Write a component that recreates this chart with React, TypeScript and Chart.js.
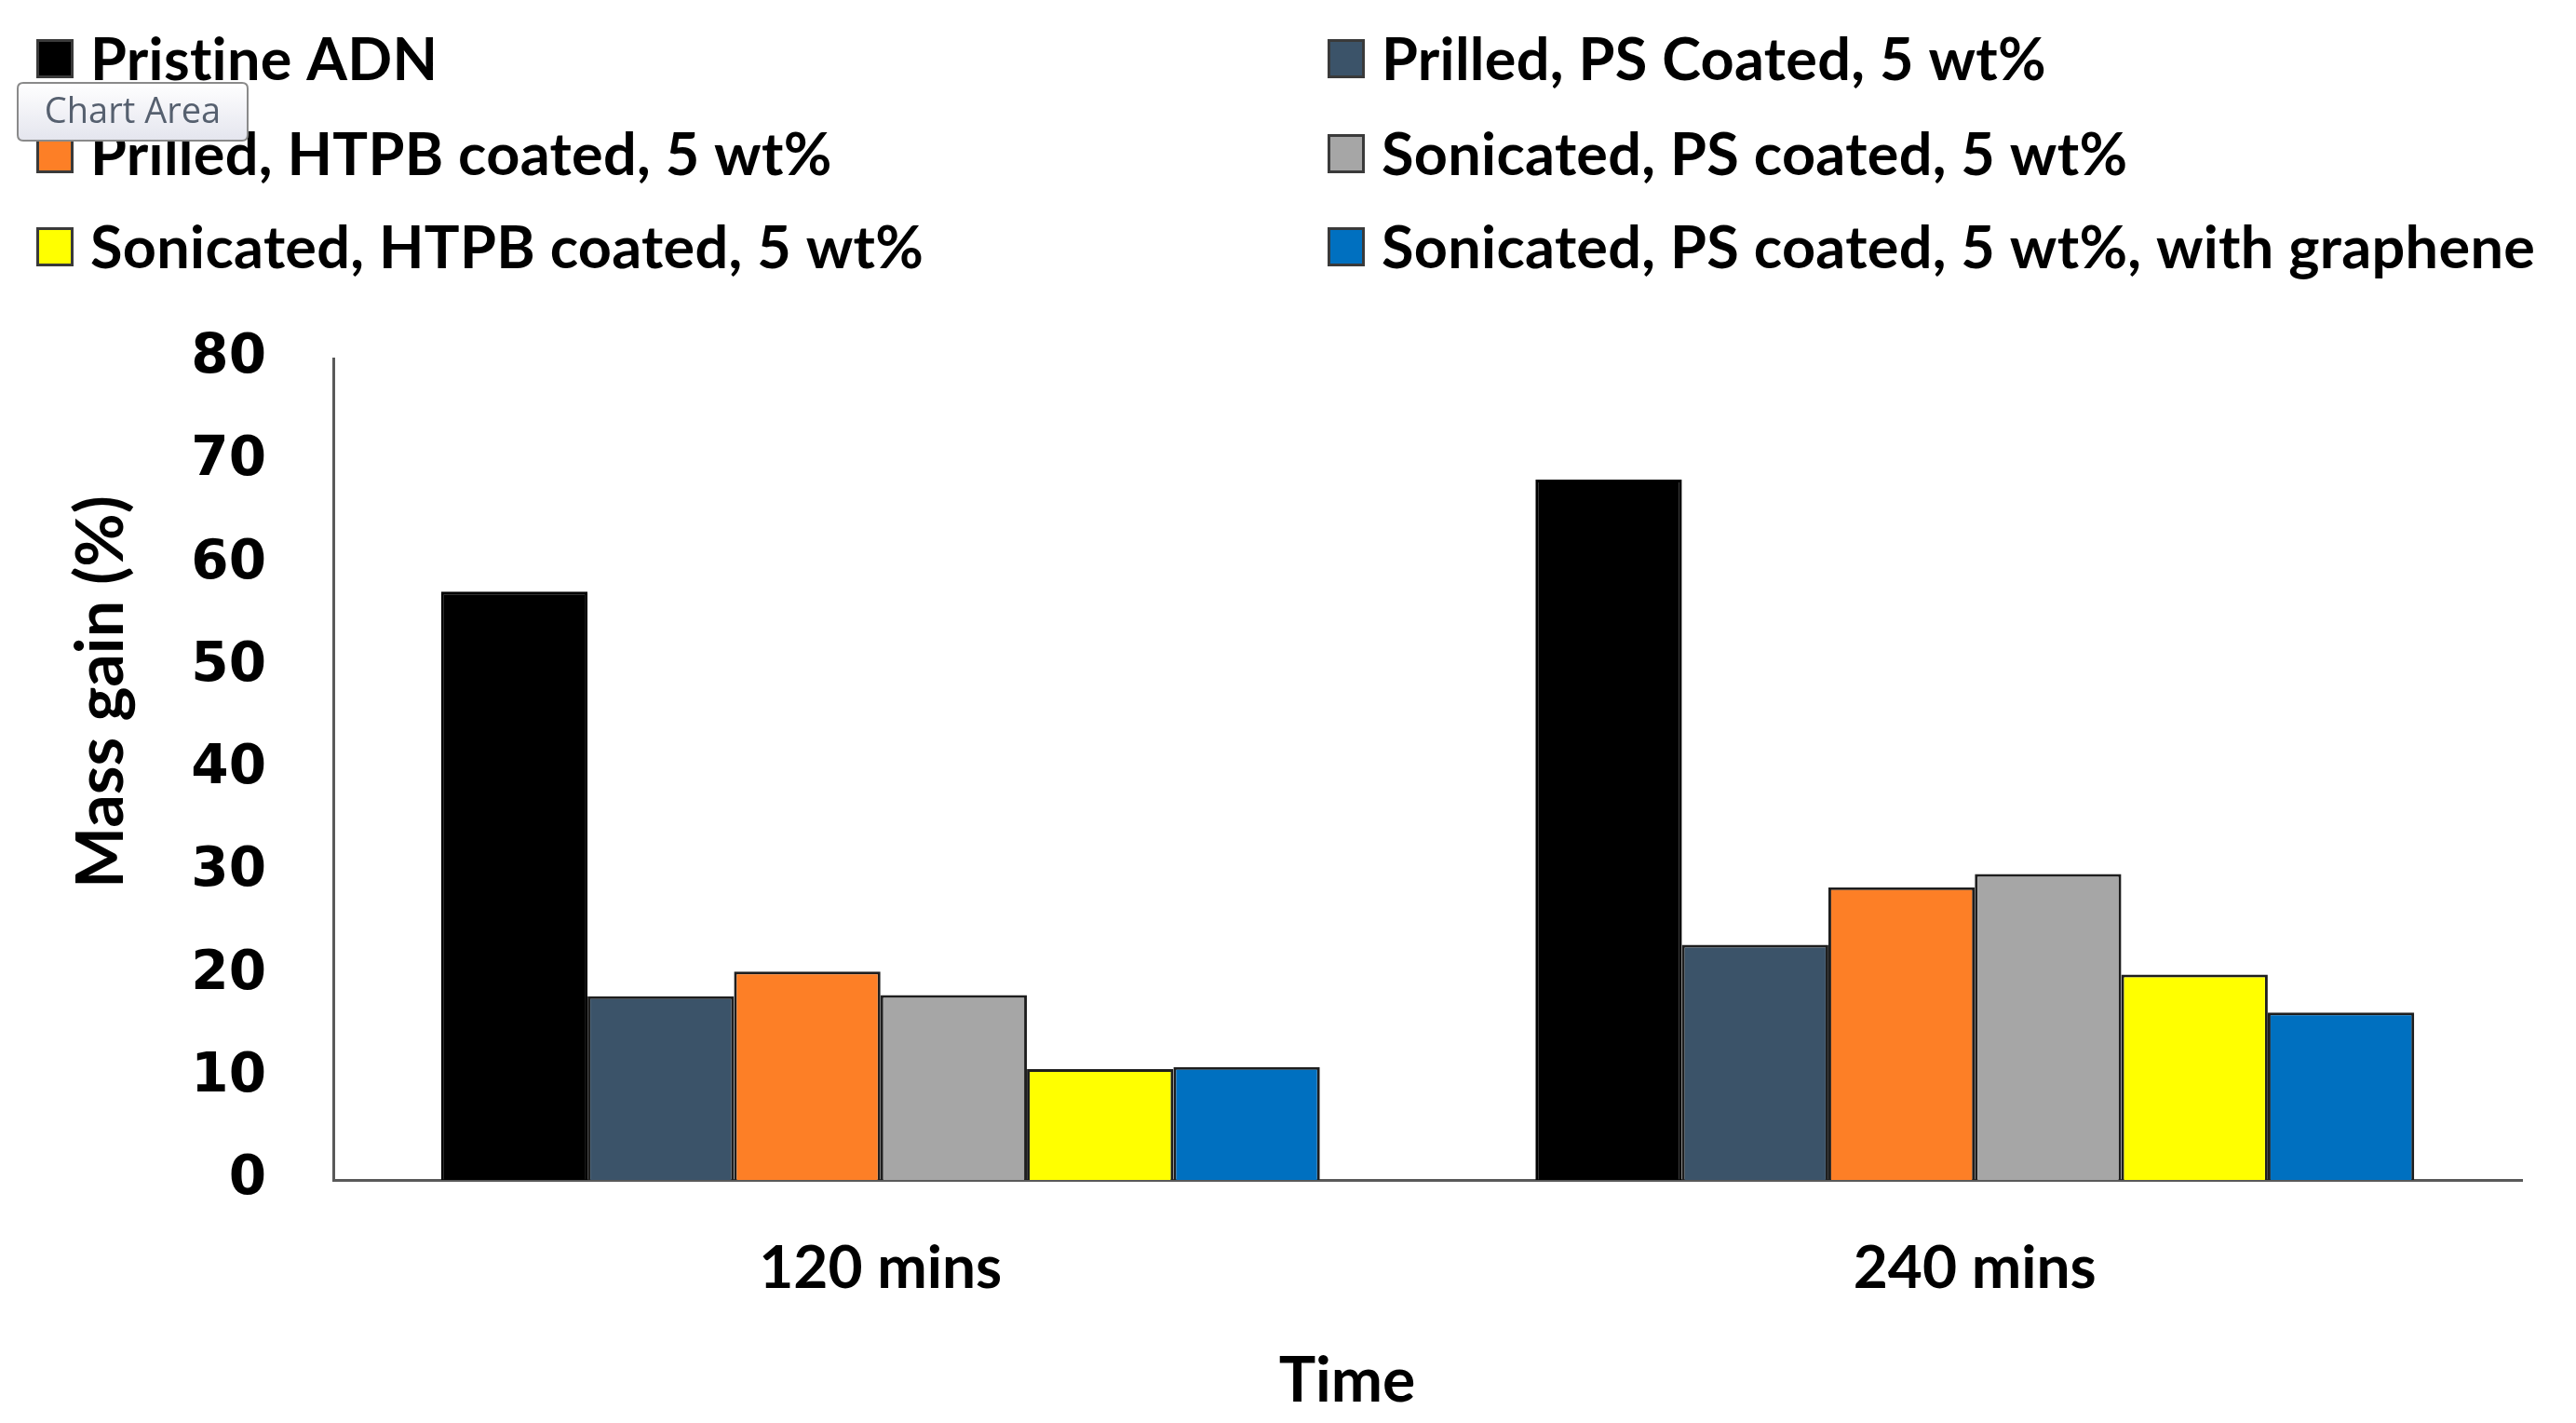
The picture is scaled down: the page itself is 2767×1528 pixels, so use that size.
import React, { useEffect, useRef } from "react";
import { Chart, registerables } from "chart.js";

Chart.register(...registerables);

// ---- Data ----
const categories = ["120 mins", "240 mins"];
const seriesLabels = [
  "Pristine ADN",
  "Prilled, PS Coated, 5 wt%",
  "Prilled, HTPB coated, 5 wt%",
  "Sonicated, PS coated, 5 wt%",
  "Sonicated, HTPB coated, 5 wt%",
  "Sonicated, PS coated, 5 wt%, with graphene",
];
const pristineADN = [57.3, 68.2];
const prilledPS = [17.9, 22.9];
const prilledHTPB = [20.3, 28.5];
const sonicatedPS = [18.0, 29.8];
const sonicatedHTPB = [10.8, 20.0];
const sonicatedPSGraphene = [11.0, 16.3];
const seriesColors = ["#000000", "#3B5369", "#FD7F26", "#A6A6A6", "#FFFF00", "#0070C0"];
const yMin = 0;
const yMax = 80;
const yStep = 10;
const yTitle = "Mass gain (%)";
const xTitle = "Time";
const hoverTipText = "Chart Area";

const W = 2767;
const H = 1528;

const CAL = "Lato, 'Open Sans', sans-serif";

const overlayPlugin = {
  id: "overlayPlugin",
  afterDraw(chart: any) {
    const ctx = chart.ctx as CanvasRenderingContext2D;
    ctx.save();
    // Legend in a 2-column grid
    const colX = [39, 1426];
    const rowY = [63, 165, 265];
    ctx.font = `bold 63px ${CAL}`;
    (ctx as any).letterSpacing = "0.3px";
    ctx.textBaseline = "middle";
    ctx.textAlign = "left";
    chart.data.datasets.forEach((d: any, i: number) => {
      const col = i % 2;
      const row = Math.floor(i / 2);
      const x = colX[col];
      const y = rowY[row];
      ctx.fillStyle = d.backgroundColor;
      ctx.fillRect(x, y - 21, 40, 42);
      ctx.strokeStyle = "#3a3a3a";
      ctx.lineWidth = 3;
      ctx.strokeRect(x + 1.5, y - 19.5, 37, 39);
      ctx.fillStyle = "#000000";
      ctx.fillText(d.label, x + 58, y + 3);
    });
    (ctx as any).letterSpacing = "0px";

    // Axis titles
    ctx.fillStyle = "#000000";
    ctx.font = `bold 70px ${CAL}`;
    ctx.textAlign = "center";
    ctx.textBaseline = "middle";
    ctx.save();
    ctx.translate(109, 743);
    ctx.rotate(-Math.PI / 2);
    ctx.fillText(yTitle, 0, 0);
    ctx.restore();
    ctx.font = `bold 66px ${CAL}`;
    ctx.fillText(xTitle, 1447, 1484);

    // Hover tip box
    const bx = 19, by = 89, bw = 247, bh = 62;
    const g = ctx.createLinearGradient(0, by, 0, by + bh);
    g.addColorStop(0, "#ffffff");
    g.addColorStop(1, "#e4e5ee");
    ctx.fillStyle = g;
    ctx.beginPath();
    const r = 6;
    ctx.moveTo(bx + r, by);
    ctx.lineTo(bx + bw - r, by);
    ctx.quadraticCurveTo(bx + bw, by, bx + bw, by + r);
    ctx.lineTo(bx + bw, by + bh - r);
    ctx.quadraticCurveTo(bx + bw, by + bh, bx + bw - r, by + bh);
    ctx.lineTo(bx + r, by + bh);
    ctx.quadraticCurveTo(bx, by + bh, bx, by + bh - r);
    ctx.lineTo(bx, by + r);
    ctx.quadraticCurveTo(bx, by, bx + r, by);
    ctx.closePath();
    ctx.fill();
    ctx.strokeStyle = "#8a8a8a";
    ctx.lineWidth = 2;
    ctx.stroke();
    ctx.fillStyle = "#56606f";
    ctx.font = `38px 'Open Sans', sans-serif`;
    ctx.textAlign = "center";
    ctx.fillText(hoverTipText, bx + bw / 2, by + bh / 2 + 1);
    ctx.restore();
  },
};

export default function App() {
  const ref = useRef<HTMLCanvasElement | null>(null);

  useEffect(() => {
    document.body.style.margin = "0";
    const seriesValues = [pristineADN, prilledPS, prilledHTPB, sonicatedPS, sonicatedHTPB, sonicatedPSGraphene];
    const chart = new Chart(ref.current as HTMLCanvasElement, {
      type: "bar",
      data: {
        labels: categories,
        datasets: seriesLabels.map((label, i) => ({
          label,
          data: seriesValues[i],
          backgroundColor: seriesColors[i],
          borderColor: i === 0 ? "#000000" : "#1e1e1e",
          borderWidth: 3,
          categoryPercentage: 0.803,
          barPercentage: 1.0,
        })),
      },
      options: {
        animation: false,
        responsive: true,
        maintainAspectRatio: false,
        devicePixelRatio: 1,
        layout: { padding: { top: 385, right: 58, left: 0, bottom: 0 } },
        plugins: {
          legend: { display: false },
          tooltip: { enabled: false },
          title: { display: false },
        },
        scales: {
          x: {
            grid: { display: false },
            border: { display: true, color: "#595959", width: 3 },
            ticks: {
              color: "#000000",
              padding: 49,
              font: { family: CAL, size: 64, weight: "bold" },
            },
            afterFit: (s: any) => {
              s.height = 261;
            },
          },
          y: {
            min: yMin,
            max: yMax,
            grid: { display: false },
            border: { display: true, color: "#595959", width: 3 },
            ticks: {
              stepSize: yStep,
              color: "#000000",
              padding: 64,
              font: { family: "'DejaVu Sans', Verdana, sans-serif", size: 58, weight: "bold" },
            },
            afterFit: (s: any) => {
              s.width = 358;
            },
          },
        },
      },
      plugins: [overlayPlugin],
    });
    return () => chart.destroy();
  }, []);

  return (
    <div style={{ position: "fixed", left: 0, top: 0, width: W, height: H, background: "#ffffff" }}>
      <canvas ref={ref} />
    </div>
  );
}
